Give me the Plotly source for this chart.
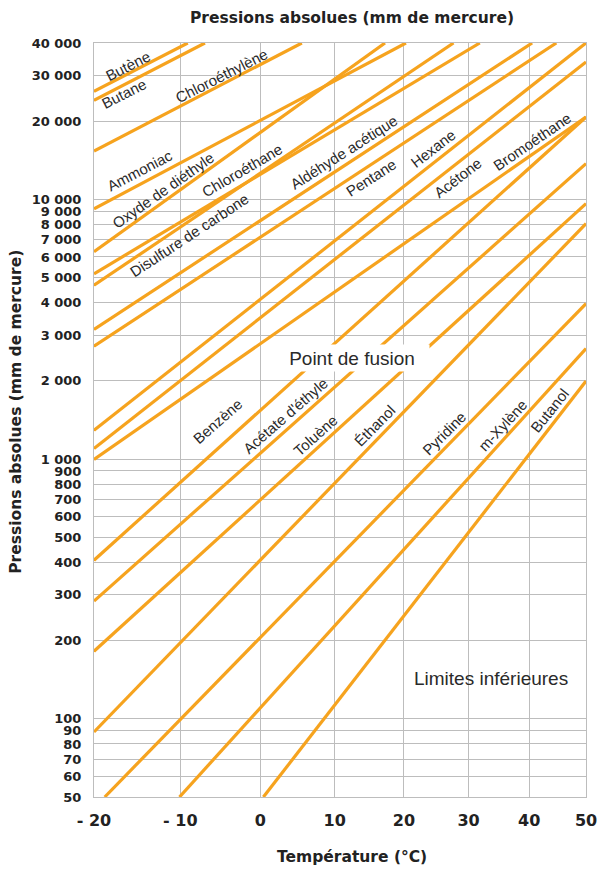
import numpy as np
import plotly.graph_objects as go

# ---------------- data ----------------
substances = ["Butène", "Butane", "Chloroéthylène", "Ammoniac", "Oxyde de diéthyle",
              "Chloroéthane", "Disulfure de carbone", "Aldéhyde acétique", "Pentane",
              "Hexane", "Acétone", "Bromoéthane", "Benzène", "Acétate d'éthyle",
              "Toluène", "Éthanol", "Pyridine", "m-Xylène", "Butanol"]
# straight lines of the Cox chart: start (°C, mm Hg) -> end (°C, mm Hg)
t_start = [-20, -20, -20, -20, -20, -20, -20, -20, -20, -20,
           -20, -20, -20, -20, -20, -20, -18.8, -10.1, 0.4]
p_start = [26070, 24070, 15360, 9197, 6283, 5169, 4669, 3160, 2719, 1291,
           1098, 996, 408, 284, 182, 89, 50, 50, 50]
t_end = [-9.1, -7.0, 5.5, 20.3, 17.2, 31.8, 27.6, 40.5, 44.7, 50,
         50, 50, 50, 50, 50, 50, 50, 50, 50]
p_end = [40000, 40000, 40000, 40000, 40000, 40000, 40000, 40000, 40000, 40000,
         33810, 20760, 20760, 13730, 9632, 8067, 3969, 2664, 1998]

# label anchor (°C, mm Hg) for each substance name
label_t = [-16.1, -16.6, -4.9, -14.8, -12.1, -2.4, -9.0, 11.2, 15.2, 24.4,
           28.3, 40.5, -5.5, 3.3, 7.3, 15.7, 26.1, 35.5, 43.5]
label_p = [32830, 25620, 30040, 12940, 10840, 12940, 7272, 15180, 12160, 15730,
           12160, 16740, 1398, 1475, 1235, 1349, 1257, 1349, 1541]

x_ticks = [-20, -10, 0, 10, 20, 30, 40, 50]
x_ticktext = ["- 20", "- 10", "0", "10", "20", "30", "40", "50"]
y_ticks = [50, 60, 70, 80, 90, 100, 200, 300, 400, 500, 600, 700, 800, 900, 1000,
           2000, 3000, 4000, 5000, 6000, 7000, 8000, 9000, 10000, 20000, 30000, 40000]
y_ticktext = ["50", "60", "70", "80", "90", "100", "200", "300", "400", "500", "600",
              "700", "800", "900", "1 000", "2 000", "3 000", "4 000", "5 000", "6 000",
              "7 000", "8 000", "9 000", "10 000", "20 000", "30 000", "40 000"]

# ---------------- axis transform: reciprocal absolute temperature ----------------
def tx(t):
    return -1.0 / (np.asarray(t, dtype=float) + 273.15)

W, H = 609, 871
ML, MR, MT, MB = 94, 12, 43, 74
PW, PH = W - ML - MR, H - MT - MB
x_range = [float(tx(-20)), float(tx(50))]
y_range = [np.log10(50), np.log10(40000)]
sx = PW / (x_range[1] - x_range[0])
sy = PH / (y_range[1] - y_range[0])

ORANGE = "#F6A31E"
GRID = "#BDBDBD"
TEXT_FONT = "Liberation Sans, Arial, sans-serif"
BOLD_FONT = "DejaVu Sans, sans-serif"

fig = go.Figure()
for i, name in enumerate(substances):
    fig.add_trace(go.Scatter(
        x=tx([t_start[i], t_end[i]]), y=[p_start[i], p_end[i]],
        mode="lines", line=dict(color=ORANGE, width=3.2),
        name=name, showlegend=False, hoverinfo="name"))

for i, name in enumerate(substances):
    dx = (tx(t_end[i]) - tx(t_start[i])) * sx
    dy = (np.log10(p_end[i]) - np.log10(p_start[i])) * sy
    ang = -np.degrees(np.arctan2(dy, dx))
    fig.add_annotation(x=float(tx(label_t[i])), y=np.log10(label_p[i]), text=name,
                       showarrow=False, textangle=float(ang),
                       font=dict(family=TEXT_FONT, size=15, color="#2a2a2a"))

fig.add_annotation(x=float(tx(12.4)), y=np.log10(2444), text="Point de fusion",
                   showarrow=False, bgcolor="white", width=152, height=24,
                   font=dict(family=TEXT_FONT, size=19, color="#2a2a2a"))
fig.add_annotation(x=float(tx(33.6)), y=np.log10(143), text="Limites inférieures",
                   showarrow=False,
                   font=dict(family=TEXT_FONT, size=19, color="#2a2a2a"))

TITLE_FONT = dict(family=BOLD_FONT, size=15.5, color="#222", weight="bold")
fig.add_annotation(xref="paper", yref="paper", x=(358 - ML) / PW, y=1 + (MT - 18) / PH,
                   text="Pressions absolues (mm de mercure)", showarrow=False,
                   font=TITLE_FONT, xanchor="center", yanchor="middle")
fig.add_annotation(xref="paper", yref="paper", x=(14 - ML) / PW, y=(H - MB - 412) / PH,
                   text="Pressions absolues (mm de mercure)", showarrow=False,
                   textangle=-90, font=TITLE_FONT, xanchor="center", yanchor="middle")
fig.add_annotation(xref="paper", yref="paper", x=(358 - ML) / PW, y=-(857 - (H - MB)) / PH,
                   text="Température (°C)", showarrow=False,
                   font=TITLE_FONT, xanchor="center", yanchor="middle")

XTICK_FONT = dict(family=BOLD_FONT, size=16, color="#222", weight="bold")
YTICK_FONT = dict(family=BOLD_FONT, size=13, color="#222", weight="bold")
fig.update_xaxes(range=x_range, tickmode="array", tickvals=tx(x_ticks), ticktext=x_ticktext,
                 showgrid=True, gridcolor=GRID, gridwidth=1, zeroline=False,
                 showline=True, linecolor=GRID, linewidth=1, mirror=True,
                 ticks="", ticklabelstandoff=9, tickfont=XTICK_FONT)
fig.update_yaxes(type="log", range=y_range, tickmode="array", tickvals=y_ticks,
                 ticktext=y_ticktext, showgrid=True, gridcolor=GRID, gridwidth=1,
                 zeroline=False, showline=True, linecolor=GRID, linewidth=1, mirror=True,
                 ticks="", ticklabelstandoff=9, tickfont=YTICK_FONT)
fig.update_layout(width=W, height=H, margin=dict(l=ML, r=MR, t=MT, b=MB),
                  paper_bgcolor="white", plot_bgcolor="white", showlegend=False)

fig.write_html("out.html")
